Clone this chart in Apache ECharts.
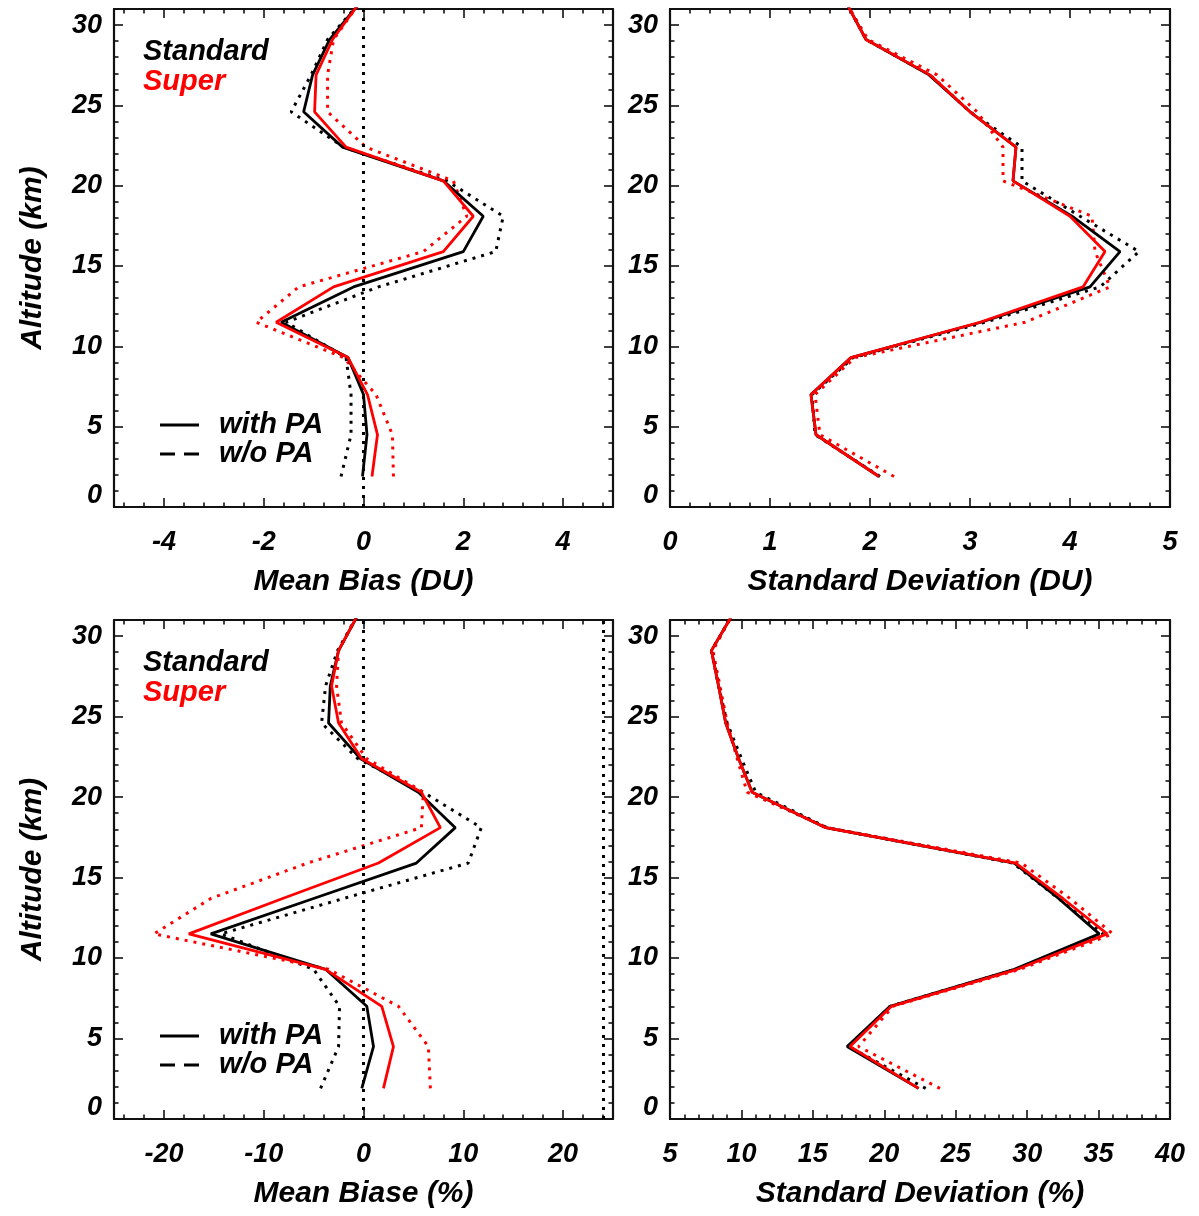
<!DOCTYPE html>
<html><head><meta charset="utf-8">
<script src="https://cdn.jsdelivr.net/npm/echarts@6/dist/echarts.min.js"></script>
<style>html,body{margin:0;padding:0;background:#fff}#c{width:1199px;height:1216px}</style>
</head><body><div id="c"></div>
<script>
// ---------- DATA ----------
const ALT = [1.9, 4.5, 7.0, 9.3, 11.5, 13.7, 15.9, 18.1, 20.3, 22.4, 24.6, 26.9, 29.1, 31.3];

// Panel A: Mean Bias (DU)
const biasDU_stdPA   = [-0.02, 0.07, 0.00, -0.31, -1.65, -0.20, 2.00, 2.40, 1.60, -0.42, -1.20, -1.02, -0.68, -0.10];
const biasDU_stdNoPA = [-0.45, -0.25, -0.25, -0.35, -1.55, 0.30, 2.65, 2.80, 1.67, -0.40, -1.45, -1.05, -0.72, -0.10];
const biasDU_supPA   = [0.17, 0.28, 0.08, -0.31, -1.75, -0.60, 1.60, 2.20, 1.60, -0.35, -0.98, -0.95, -0.62, -0.10];
const biasDU_supNoPA = [0.60, 0.58, 0.25, -0.40, -2.15, -1.30, 1.20, 2.07, 1.80, 0.05, -0.72, -0.72, -0.60, -0.10];

// Panel B: Standard Deviation (DU)
const sdDU_stdPA   = [2.09, 1.46, 1.41, 1.81, 3.11, 4.20, 4.50, 4.02, 3.43, 3.46, 3.00, 2.59, 1.96, 1.77];
const sdDU_stdNoPA = [2.10, 1.45, 1.42, 1.83, 3.15, 4.30, 4.69, 4.10, 3.52, 3.52, 3.00, 2.60, 1.96, 1.77];
const sdDU_supPA   = [2.09, 1.46, 1.41, 1.81, 3.10, 4.13, 4.35, 4.00, 3.43, 3.46, 3.00, 2.60, 1.96, 1.77];
const sdDU_supNoPA = [2.24, 1.50, 1.45, 1.85, 3.55, 4.40, 4.25, 4.22, 3.33, 3.33, 3.07, 2.67, 1.98, 1.77];

// Panel C: Mean Biase (%)
const biasPct_stdPA   = [-0.17, 1.0, 0.33, -3.8, -15.3, -5.0, 5.3, 9.2, 5.5, -0.33, -3.5, -3.33, -2.5, -0.57];
const biasPct_stdNoPA = [-4.3, -2.5, -2.4, -5.0, -14.3, -2.0, 10.5, 11.8, 6.0, -0.6, -4.2, -3.8, -2.6, -0.6];
const biasPct_supPA   = [2.0, 3.0, 1.83, -3.8, -17.5, -8.1, 1.5, 7.7, 5.8, -0.2, -2.5, -3.2, -2.5, -0.6];
const biasPct_supNoPA = [6.7, 6.5, 3.5, -3.5, -21.0, -15.3, -5.6, 5.8, 6.0, 0.3, -2.2, -2.7, -2.5, -0.6];

// Panel D: Standard Deviation (%)
const sdPct_stdPA   = [22.4, 17.4, 20.4, 29.1, 35.05, 32.2, 29.1, 15.9, 10.75, 9.8, 8.9, 8.4, 7.9, 9.35];
const sdPct_stdNoPA = [22.9, 17.5, 20.4, 29.2, 35.3, 32.2, 29.0, 16.0, 11.0, 10.0, 9.0, 8.4, 7.9, 9.35];
const sdPct_supPA   = [22.4, 17.6, 20.5, 29.3, 35.6, 32.5, 29.2, 15.9, 10.75, 9.8, 8.9, 8.4, 7.9, 9.35];
const sdPct_supNoPA = [23.9, 18.2, 20.6, 29.5, 36.0, 33.0, 29.6, 16.0, 10.4, 9.7, 9.0, 8.5, 8.0, 9.35];

// Reference vertical lines
const vlinesA = [0];
const vlinesC = [0, 24];

// Tick values
const Y_MAJOR = [0, 5, 10, 15, 20, 25, 30];
const Y_STEP_MINOR = 1;
const XA_MAJOR = [-4, -2, 0, 2, 4];
const XB_MAJOR = [0, 1, 2, 3, 4, 5];
const XC_MAJOR = [-20, -10, 0, 10, 20];
const XD_MAJOR = [5, 10, 15, 20, 25, 30, 35, 40];

// ---------- HELPERS ----------
function minorTicks(min, max, step, majors) {
  const out = [];
  const n0 = Math.ceil(min / step - 1e-9), n1 = Math.floor(max / step + 1e-9);
  for (let k = n0; k <= n1; k++) {
    const v = Math.round(k * step * 1000) / 1000;
    if (v <= min || v >= max) continue;
    if (majors.some(m => Math.abs(m - v) < 1e-6)) continue;
    out.push(v);
  }
  return out;
}
const pairs = (xs) => xs.map((x, i) => [x, ALT[i]]);

const FONT = '"Liberation Sans", Arial, Helvetica, sans-serif';
const BLACK = '#000000', RED = '#ff0000';
const DOT = [3, 6];

const grids = [
  {left: 114, top: 9, width: 499, height: 498},
  {left: 670, top: 9, width: 500, height: 498},
  {left: 114, top: 620, width: 499, height: 499},
  {left: 670, top: 620, width: 500, height: 499}
];

const panels = [
  {xmin: -5, xmax: 5, major: XA_MAJOR, minorStep: 0.4, xName: 'Mean Bias (DU)', yName: 'Altitude (km)',
   d: [biasDU_stdNoPA, biasDU_supNoPA, biasDU_stdPA, biasDU_supPA], vlines: vlinesA, legend: true},
  {xmin: 0, xmax: 5, major: XB_MAJOR, minorStep: 0.2, xName: 'Standard Deviation (DU)', yName: '',
   d: [sdDU_stdNoPA, sdDU_supNoPA, sdDU_stdPA, sdDU_supPA], vlines: [], legend: false},
  {xmin: -25, xmax: 25, major: XC_MAJOR, minorStep: 2, xName: 'Mean Biase (%)', yName: 'Altitude (km)',
   d: [biasPct_stdNoPA, biasPct_supNoPA, biasPct_stdPA, biasPct_supPA], vlines: vlinesC, legend: true},
  {xmin: 5, xmax: 40, major: XD_MAJOR, minorStep: 1, xName: 'Standard Deviation (%)', yName: '',
   d: [sdPct_stdNoPA, sdPct_supNoPA, sdPct_stdPA, sdPct_supPA], vlines: [], legend: false}
];

const labelFont = {fontFamily: FONT, fontWeight: 'bold', fontStyle: 'italic', fontSize: 27, color: '#000'};
const nameFont = {fontFamily: FONT, fontWeight: 'bold', fontStyle: 'italic', fontSize: 30, color: '#000'};
const lineSty = {color: '#111', width: 2.2};
const tickSty = {color: '#111', width: 1.6};

const xAxes = [], yAxes = [], series = [], graphics = [];

panels.forEach((p, i) => {
  const xMinor = minorTicks(p.xmin, p.xmax, p.minorStep, p.major);
  const yMinor = minorTicks(0, 31, Y_STEP_MINOR, Y_MAJOR);
  const base = {gridIndex: i, type: 'value', min: p.xmin, max: p.xmax, splitLine: {show: false}};
  xAxes.push(Object.assign({}, base, {
    position: 'bottom',
    axisLine: {show: true, onZero: false, lineStyle: lineSty},
    axisTick: {show: true, inside: true, length: 9, customValues: p.major, lineStyle: tickSty},
    axisLabel: Object.assign({show: true, margin: 22, customValues: p.major}, labelFont),
    name: p.xName, nameLocation: 'middle', nameGap: 60, nameTextStyle: nameFont
  }));
  xAxes.push(Object.assign({}, base, {
    position: 'bottom',
    axisLine: {show: false, onZero: false},
    axisTick: {show: true, inside: true, length: 4.5, customValues: xMinor, lineStyle: tickSty},
    axisLabel: {show: false}
  }));
  xAxes.push(Object.assign({}, base, {
    position: 'top',
    axisLine: {show: true, onZero: false, lineStyle: lineSty},
    axisTick: {show: true, inside: true, length: 9, customValues: p.major, lineStyle: tickSty},
    axisLabel: {show: false}
  }));
  xAxes.push(Object.assign({}, base, {
    position: 'top',
    axisLine: {show: false, onZero: false},
    axisTick: {show: true, inside: true, length: 4.5, customValues: xMinor, lineStyle: tickSty},
    axisLabel: {show: false}
  }));
  const ybase = {gridIndex: i, type: 'value', min: 0, max: 31, splitLine: {show: false}};
  yAxes.push(Object.assign({}, ybase, {
    position: 'left',
    axisLine: {show: true, onZero: false, lineStyle: lineSty},
    axisTick: {show: true, inside: true, length: 9, customValues: Y_MAJOR, lineStyle: tickSty},
    axisLabel: Object.assign({show: true, margin: 12, customValues: Y_MAJOR,
      formatter: v => (v === 0 ? '{z|0}' : String(v)),
      rich: {z: Object.assign({padding: [0, 0, 22, 0]}, labelFont)}
    }, labelFont),
    name: p.yName, nameLocation: 'middle', nameGap: 66, nameTextStyle: nameFont
  }));
  yAxes.push(Object.assign({}, ybase, {
    position: 'left',
    axisLine: {show: false, onZero: false},
    axisTick: {show: true, inside: true, length: 4.5, customValues: yMinor, lineStyle: tickSty},
    axisLabel: {show: false}
  }));
  yAxes.push(Object.assign({}, ybase, {
    position: 'right',
    axisLine: {show: true, onZero: false, lineStyle: lineSty},
    axisTick: {show: true, inside: true, length: 9, customValues: Y_MAJOR, lineStyle: tickSty},
    axisLabel: {show: false}
  }));
  yAxes.push(Object.assign({}, ybase, {
    position: 'right',
    axisLine: {show: false, onZero: false},
    axisTick: {show: true, inside: true, length: 4.5, customValues: yMinor, lineStyle: tickSty},
    axisLabel: {show: false}
  }));

  const styles = [
    {color: BLACK, width: 3, type: DOT},
    {color: RED, width: 3, type: DOT},
    {color: BLACK, width: 2.8, type: 'solid'},
    {color: RED, width: 2.8, type: 'solid'}
  ];
  p.d.forEach((arr, k) => {
    const s = {
      type: 'line', xAxisIndex: i * 4, yAxisIndex: i * 4, data: pairs(arr),
      showSymbol: false, symbol: 'none', clip: true, silent: true, z: 3 + k,
      lineStyle: Object.assign({cap: 'butt'}, styles[k])
    };
    if (k === 0 && p.vlines.length) {
      s.markLine = {
        silent: true, symbol: ['none', 'none'], label: {show: false},
        lineStyle: {color: BLACK, type: DOT, width: 3},
        data: p.vlines.map(v => ({xAxis: v}))
      };
    }
    series.push(s);
  });

  if (p.legend) {
    const g = grids[i];
    const tf = 'italic bold 29px ' + FONT;
    graphics.push({type: 'text', x: 143, y: g.top + 43, style: {text: 'Standard', font: tf, fill: BLACK, verticalAlign: 'middle'}});
    graphics.push({type: 'text', x: 143, y: g.top + 73, style: {text: 'Super', font: tf, fill: RED, verticalAlign: 'middle'}});
    graphics.push({type: 'line', shape: {x1: 160, y1: g.top + 416, x2: 199, y2: g.top + 416}, style: {stroke: BLACK, lineWidth: 2.8}});
    graphics.push({type: 'text', x: 219, y: g.top + 416, style: {text: 'with PA', font: tf, fill: BLACK, verticalAlign: 'middle'}});
    graphics.push({type: 'line', shape: {x1: 160, y1: g.top + 445, x2: 199, y2: g.top + 445}, style: {stroke: BLACK, lineWidth: 2.8, lineDash: [15, 9]}});
    graphics.push({type: 'text', x: 219, y: g.top + 445, style: {text: 'w/o PA', font: tf, fill: BLACK, verticalAlign: 'middle'}});
  }
});

const chart = echarts.init(document.getElementById('c'), null, {renderer: 'canvas'});
chart.setOption({
  animation: false,
  backgroundColor: '#ffffff',
  grid: grids.map(g => Object.assign({containLabel: false}, g)),
  xAxis: xAxes,
  yAxis: yAxes,
  series: series,
  graphic: graphics
});
</script>
</body></html>
